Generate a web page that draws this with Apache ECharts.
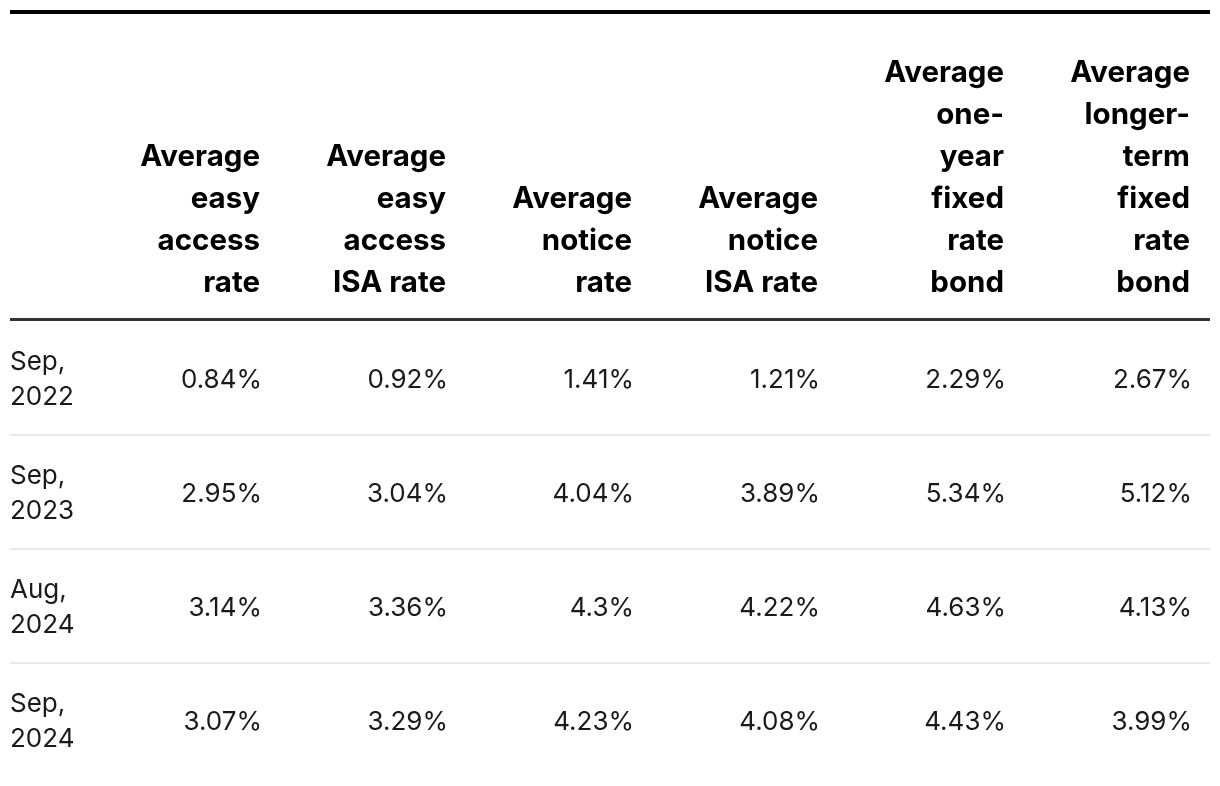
<!DOCTYPE html>
<html>
<head>
<meta charset="utf-8">
<script src="https://cdn.jsdelivr.net/npm/echarts@6/dist/echarts.min.js"></script>
<style>
  html, body { margin: 0; padding: 0; background: #ffffff; }
  #chart { width: 1220px; height: 786px; }
</style>
</head>
<body>
<div id="chart"></div>
<script>
// ---- Data ----
const rowLabels = ['Sep,\n2022', 'Sep,\n2023', 'Aug,\n2024', 'Sep,\n2024'];
const columnHeaders = [
  'Average\neasy\naccess\nrate',
  'Average\neasy\naccess\nISA rate',
  'Average\nnotice\nrate',
  'Average\nnotice\nISA rate',
  'Average\none-\nyear\nfixed\nrate\nbond',
  'Average\nlonger-\nterm\nfixed\nrate\nbond'
];
const easyAccessRate    = [0.84, 2.95, 3.14, 3.07];
const easyAccessIsaRate = [0.92, 3.04, 3.36, 3.29];
const noticeRate        = [1.41, 4.04, 4.3, 4.23];
const noticeIsaRate     = [1.21, 3.89, 4.22, 4.08];
const oneYearFixedBond  = [2.29, 5.34, 4.63, 4.43];
const longerTermFixedBond = [2.67, 5.12, 4.13, 3.99];

const seriesColumns = [easyAccessRate, easyAccessIsaRate, noticeRate, noticeIsaRate, oneYearFixedBond, longerTermFixedBond];

// ---- Build cell data ----
const FONT = 'Inter, "Noto Sans", sans-serif';
const cellData = [];   // [colIndex(1..6) or 0 for date, rowIndex]
const cellText = [];
rowLabels.forEach((lab, r) => { cellData.push([0, r]); cellText.push(lab); });
seriesColumns.forEach((col, c) => {
  col.forEach((v, r) => { cellData.push([c + 1, r]); cellText.push(String(v) + '%'); });
});
const headerData = columnHeaders.map((h, c) => [c + 1, 0]);

const X_MIN = -84 / 186;
const chart = echarts.init(document.getElementById('chart'), null, { renderer: 'canvas' });
chart.setOption({
  animation: false,
  backgroundColor: '#ffffff',
  grid: { left: 10, right: 10, top: 321, height: 456 },
  xAxis: { type: 'value', min: X_MIN, max: 6, show: false },
  yAxis: { type: 'value', min: 0, max: 4, inverse: true, show: false },
  series: [
    {
      type: 'custom',
      name: 'rules',
      clip: false,
      data: [[0, 0]],
      renderItem: function (params, api) {
        const left = api.coord([X_MIN, 0]);
        const right = api.coord([6, 0]);
        const children = [
          { type: 'rect', shape: { x: left[0], y: 10, width: right[0] - left[0], height: 4 }, style: { fill: '#000000' } },
          { type: 'rect', shape: { x: left[0], y: left[1] - 3, width: right[0] - left[0], height: 3 }, style: { fill: '#333333' } }
        ];
        for (let r = 1; r < rowLabels.length; r++) {
          const p = api.coord([X_MIN, r]);
          children.push({ type: 'rect', shape: { x: left[0], y: p[1] - 1, width: right[0] - left[0], height: 2 }, style: { fill: '#e9e9e9' } });
        }
        return { type: 'group', children: children };
      }
    },
    {
      type: 'custom',
      name: 'headers',
      clip: false,
      data: headerData,
      renderItem: function (params, api) {
        const p = api.coord([api.value(0), api.value(1)]);
        return {
          type: 'text',
          x: p[0] - 20,
          y: p[1] - 17,
          style: {
            text: columnHeaders[params.dataIndex],
            fill: '#000000',
            fontFamily: FONT,
            fontWeight: 'bold',
            fontSize: 29.5,
            lineHeight: 42,
            align: 'right',
            verticalAlign: 'bottom'
          }
        };
      }
    },
    {
      type: 'custom',
      name: 'cells',
      clip: false,
      data: cellData,
      renderItem: function (params, api) {
        const c = api.value(0), r = api.value(1);
        const isDate = c === 0;
        const p = api.coord([isDate ? X_MIN : c, r + 0.5]);
        return {
          type: 'text',
          x: isDate ? p[0] : p[0] - 18,
          y: p[1] + 2,
          style: {
            text: cellText[params.dataIndex],
            fill: '#1a1a1a',
            fontFamily: FONT,
            fontWeight: 'normal',
            fontSize: 26,
            lineHeight: 35,
            align: isDate ? 'left' : 'right',
            verticalAlign: 'middle'
          }
        };
      }
    }
  ]
});
</script>
</body>
</html>
